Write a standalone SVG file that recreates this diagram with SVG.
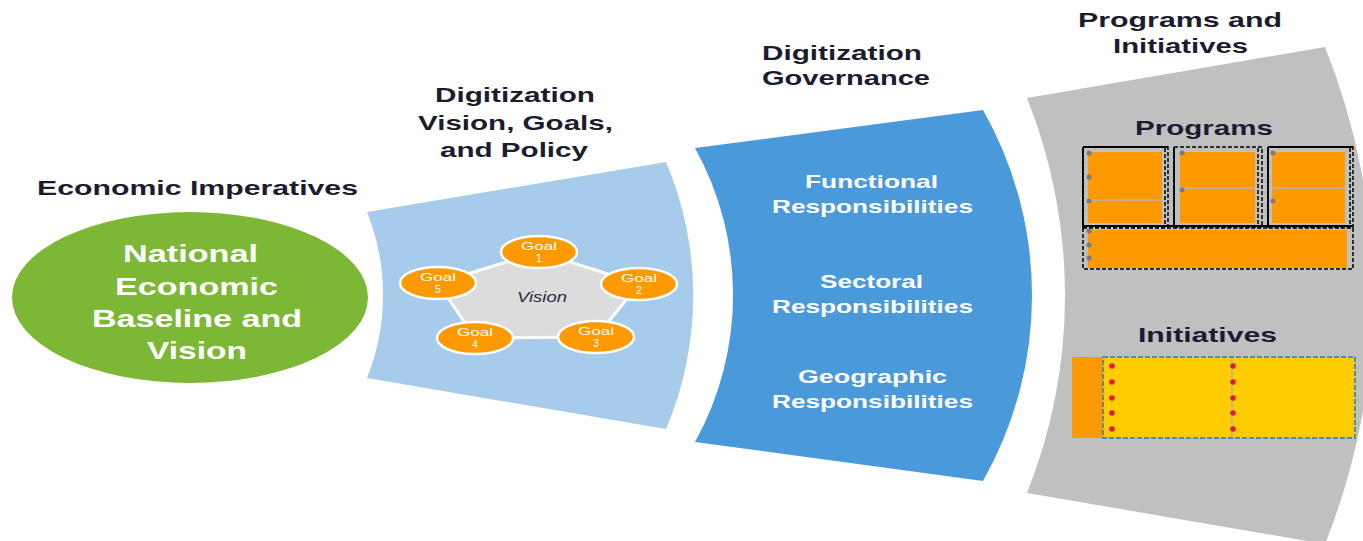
<svg xmlns="http://www.w3.org/2000/svg" width="1363" height="541" viewBox="0 0 1363 541">
<style>
.t{font-family:"Liberation Sans",Arial,sans-serif;font-weight:bold;fill:#1c1c30;font-size:21px}
.w{font-family:"Liberation Sans",Arial,sans-serif;font-weight:bold;fill:#ffffff}
.gt{font-family:"Liberation Sans",Arial,sans-serif;fill:#ffffff;font-size:10.5px}
.goal{fill:#ff9900;stroke:#ffffff;stroke-width:2.5}
.dash{fill:none;stroke:#000;stroke-width:1.5;stroke-dasharray:4 2}
.solid{stroke:#000;stroke-width:1.8}
.sep{stroke:#b5b5b5;stroke-width:1.5}
.gd{fill:#7a7a7a}
.rd{fill:#e0194a}
</style>
<rect width="1363" height="541" fill="#ffffff"/>
<g id="connectors"/>

<g id="economic-imperatives">
<text class="t" x="37" y="195" font-size="22" textLength="321" lengthAdjust="spacingAndGlyphs">Economic Imperatives</text>
<ellipse cx="190" cy="297.5" rx="178" ry="85.5" fill="#7db736"/>
<g class="w" font-size="24">
<text x="123" y="262" textLength="135" lengthAdjust="spacingAndGlyphs">National</text>
<text x="115" y="295" textLength="163" lengthAdjust="spacingAndGlyphs">Economic</text>
<text x="92" y="327" textLength="210" lengthAdjust="spacingAndGlyphs">Baseline and</text>
<text x="147" y="359" textLength="100" lengthAdjust="spacingAndGlyphs">Vision</text>
</g>
</g>

<g id="vision-goals-policy">
<text class="t" x="435" y="102" textLength="160" lengthAdjust="spacingAndGlyphs">Digitization</text>
<text class="t" x="418" y="130" textLength="195" lengthAdjust="spacingAndGlyphs">Vision, Goals,</text>
<text class="t" x="440" y="157" textLength="148" lengthAdjust="spacingAndGlyphs">and Policy</text>
<path d="M367,212 L666,162 A341,341 0 0 1 666,429 L367,378 A223,223 0 0 0 367,212 Z" fill="#a6cbeb"/>
<polygon points="539,252 639,284 596,337 475,338 438,283" fill="#dcdcdc" stroke="#ffffff" stroke-width="3" stroke-linejoin="round"/>
<text x="517" y="302" font-family="'Liberation Sans',Arial,sans-serif" font-style="italic" font-size="14" fill="#2b2b45" textLength="50" lengthAdjust="spacingAndGlyphs">Vision</text>
<g id="goal1"><ellipse class="goal" cx="539" cy="252" rx="38" ry="16"/><text class="gt" x="521" y="250" textLength="36" lengthAdjust="spacingAndGlyphs">Goal</text><text class="gt" x="539" y="261.5" text-anchor="middle">1</text></g>
<g id="goal2"><ellipse class="goal" cx="639" cy="284" rx="38" ry="16"/><text class="gt" x="621" y="282" textLength="36" lengthAdjust="spacingAndGlyphs">Goal</text><text class="gt" x="639" y="293.5" text-anchor="middle">2</text></g>
<g id="goal3"><ellipse class="goal" cx="596" cy="337" rx="38" ry="16"/><text class="gt" x="578" y="335" textLength="36" lengthAdjust="spacingAndGlyphs">Goal</text><text class="gt" x="596" y="346.5" text-anchor="middle">3</text></g>
<g id="goal4"><ellipse class="goal" cx="475" cy="338" rx="38" ry="16"/><text class="gt" x="457" y="336" textLength="36" lengthAdjust="spacingAndGlyphs">Goal</text><text class="gt" x="475" y="347.5" text-anchor="middle">4</text></g>
<g id="goal5"><ellipse class="goal" cx="438" cy="283" rx="38" ry="16"/><text class="gt" x="420" y="281" textLength="36" lengthAdjust="spacingAndGlyphs">Goal</text><text class="gt" x="438" y="292.5" text-anchor="middle">5</text></g>
</g>

<g id="digitization-governance">
<text class="t" x="762" y="60" textLength="160" lengthAdjust="spacingAndGlyphs">Digitization</text>
<text class="t" x="762" y="85" textLength="168" lengthAdjust="spacingAndGlyphs">Governance</text>
<path d="M695,148 L983,110 A375.6,375.6 0 0 1 983,481 L695,442 A303,303 0 0 0 695,148 Z" fill="#4a9adb"/>
<g class="w" font-size="19" fill="#f3f6fb">
<text x="805" y="188" textLength="133" lengthAdjust="spacingAndGlyphs">Functional</text>
<text x="772" y="213" textLength="201" lengthAdjust="spacingAndGlyphs">Responsibilities</text>
<text x="820" y="288" textLength="103" lengthAdjust="spacingAndGlyphs">Sectoral</text>
<text x="772" y="313" textLength="201" lengthAdjust="spacingAndGlyphs">Responsibilities</text>
<text x="798" y="383" textLength="149" lengthAdjust="spacingAndGlyphs">Geographic</text>
<text x="772" y="408" textLength="201" lengthAdjust="spacingAndGlyphs">Responsibilities</text>
</g>
</g>

<g id="programs-initiatives">
<text class="t" x="1078" y="27" textLength="204" lengthAdjust="spacingAndGlyphs">Programs and</text>
<text class="t" x="1113" y="53" textLength="135" lengthAdjust="spacingAndGlyphs">Initiatives</text>
<path d="M1027,98 L1325,47 A667,667 0 0 1 1325,544 L1027,493 A532,532 0 0 0 1027,98 Z" fill="#c0c0c0"/>
<text class="t" x="1135" y="135" textLength="138" lengthAdjust="spacingAndGlyphs">Programs</text>
<text class="t" x="1138" y="342" textLength="139" lengthAdjust="spacingAndGlyphs">Initiatives</text>

<g id="programs">
<rect x="1088" y="152" width="74" height="71" fill="#ff9900"/>
<rect x="1180" y="152" width="75" height="71" fill="#ff9900"/>
<rect x="1272" y="152" width="73" height="71" fill="#ff9900"/>
<rect x="1088" y="230" width="259" height="38" fill="#ff9900"/>
<line class="sep" x1="1088" y1="200" x2="1162" y2="200"/>
<line class="sep" x1="1180" y1="188" x2="1255" y2="188"/>
<line class="sep" x1="1272" y1="188" x2="1345" y2="188"/>
<rect class="dash" x="1083" y="147" width="85" height="80"/>
<rect class="dash" x="1174" y="147" width="88" height="80"/>
<rect class="dash" x="1268" y="147" width="85" height="80"/>
<line class="dash" x1="1165" y1="148" x2="1165" y2="226"/>
<line class="dash" x1="1258" y1="148" x2="1258" y2="226"/>
<line class="dash" x1="1350" y1="148" x2="1350" y2="226"/>
<line class="solid" x1="1083" y1="147" x2="1083" y2="228"/>
<line class="solid" x1="1174" y1="147" x2="1174" y2="228"/>
<line class="solid" x1="1268" y1="147" x2="1268" y2="228"/>
<line class="solid" x1="1083" y1="147" x2="1168" y2="147"/>
<line class="solid" x1="1268" y1="147" x2="1353" y2="147"/>
<line class="solid" x1="1083" y1="226" x2="1353" y2="226"/>
<rect class="dash" x="1083" y="228" width="270" height="41"/>
<circle class="gd" cx="1089" cy="153" r="2.5"/>
<circle class="gd" cx="1089" cy="177" r="2.5"/>
<circle class="gd" cx="1089" cy="201" r="2.5"/>
<circle class="gd" cx="1182" cy="153" r="2.5"/>
<circle class="gd" cx="1182" cy="190" r="2.5"/>
<circle class="gd" cx="1273" cy="153" r="2.5"/>
<circle class="gd" cx="1273" cy="201" r="2.5"/>
<circle class="gd" cx="1089" cy="231" r="2.5"/>
<circle class="gd" cx="1089" cy="245" r="2.5"/>
<circle class="gd" cx="1089" cy="258" r="2.5"/>
</g>

<g id="initiatives">
<rect x="1072" y="357" width="31" height="81" fill="#ff9900"/>
<rect x="1103" y="357" width="252" height="81" fill="#ffcc00" stroke="#2b7bb9" stroke-width="1.5" stroke-dasharray="5 2"/>
<line class="sep" x1="1232" y1="358" x2="1232" y2="437"/>
<circle class="rd" cx="1112" cy="366" r="2.8"/>
<circle class="rd" cx="1112" cy="382" r="2.8"/>
<circle class="rd" cx="1112" cy="398" r="2.8"/>
<circle class="rd" cx="1112" cy="413" r="2.8"/>
<circle class="rd" cx="1112" cy="429" r="2.8"/>
<circle class="rd" cx="1233" cy="366" r="2.8"/>
<circle class="rd" cx="1233" cy="382" r="2.8"/>
<circle class="rd" cx="1233" cy="398" r="2.8"/>
<circle class="rd" cx="1233" cy="413" r="2.8"/>
<circle class="rd" cx="1233" cy="429" r="2.8"/>
</g>
</g>
</svg>
